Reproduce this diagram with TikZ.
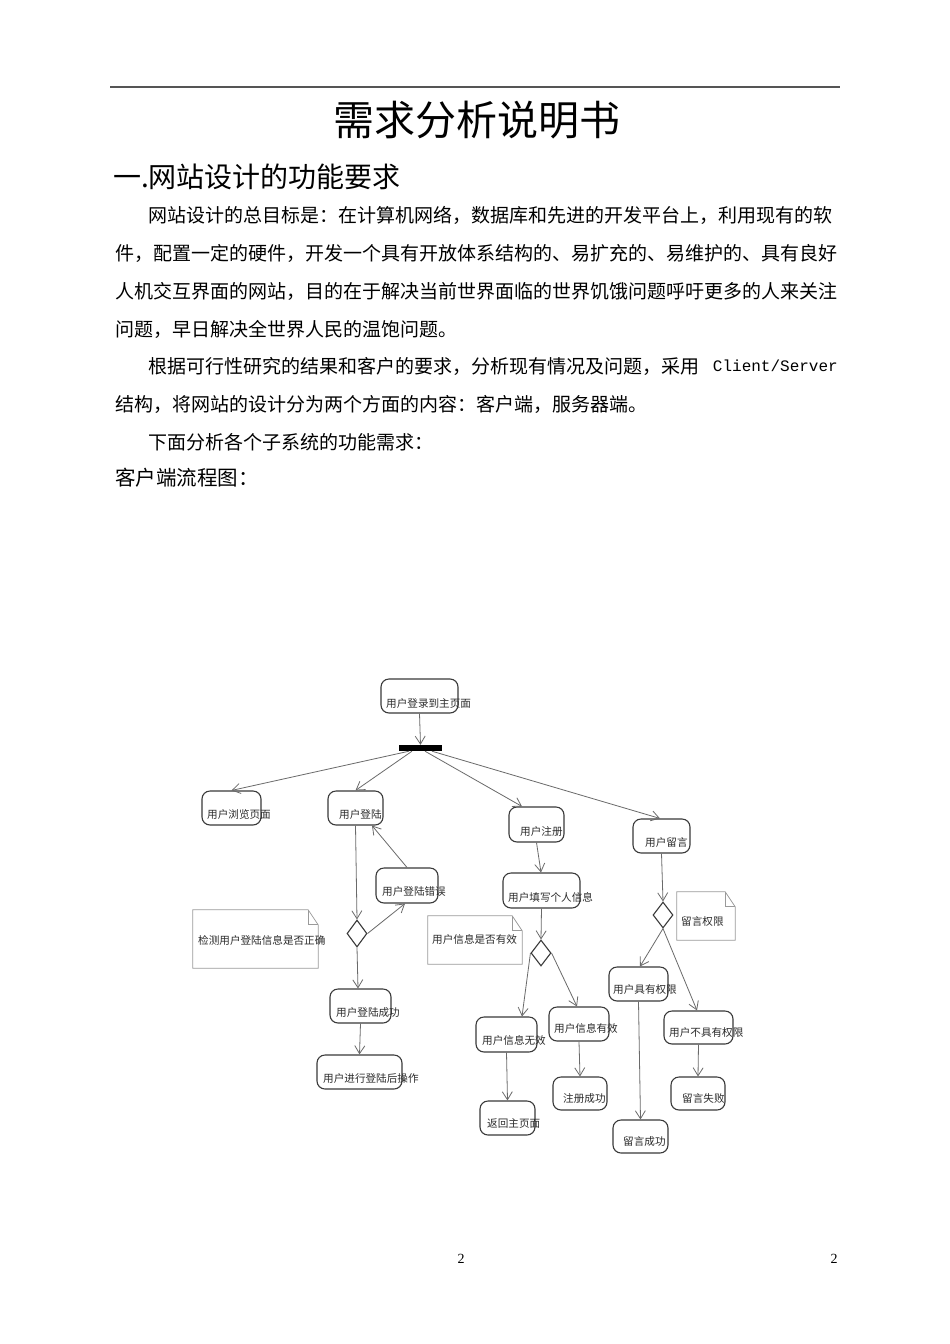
\documentclass[tikz,border=0pt]{standalone}
\usepackage{fontspec}
\setmainfont{Noto Sans CJK SC}
\newfontfamily\monofnt{Liberation Mono}
\newfontfamily\seriffnt{Liberation Serif}
\usetikzlibrary{arrows.meta,shapes.geometric}
\newcommand\setfs[1]{\fontsize{#1}{#1}\selectfont}
\definecolor{boxc}{HTML}{3A3A3A}
\definecolor{linec}{HTML}{6A6A6A}
\definecolor{notec}{HTML}{9A9A9A}
\definecolor{txtc}{HTML}{2A2A2A}
\definecolor{rulec}{HTML}{555555}
\begin{document}
\begin{tikzpicture}[x=1pt,y=-1pt,
  box/.style={draw=boxc, line width=1.1pt, rounded corners=8pt, inner sep=0pt},
  lbl/.style={anchor=west, inner sep=0pt, font=\setfs{10.6}, text=txtc},
  conn/.style={draw=linec, line width=0.8pt, -{Straight Barb[length=8pt,width=10pt]}},
  notebox/.style={inner sep=0pt},
  notedraw/.style={draw=notec, line width=0.7pt},
  para/.style={anchor=west, inner sep=0pt, font=\setfs{19}},
  dia/.style={diamond, draw=boxc, line width=1.1pt, inner sep=0pt, fill=white},
  pnum/.style={inner sep=0pt, font=\seriffnt\setfs{14}}]
\useasboundingbox[fill=white] (0,0) rectangle (950,1344);

% top rule
\coordinate (r1) at (110,87);
\coordinate (r2) at (840,87);
\draw[rulec, line width=2pt] (r1) -- (r2);

% title and text
\node[inner sep=0pt, font=\setfs{41}] (title) at (476.5,120) {需求分析说明书};
\node[anchor=west, inner sep=0pt, font=\setfs{28}] (head) at (113,177) {一.网站设计的功能要求};
\node[para] (p1) at (148,215) {网站设计的总目标是：在计算机网络，数据库和先进的开发平台上，利用现有的软};
\node[para] (p2) at (115,253) {件，配置一定的硬件，开发一个具有开放体系结构的、易扩充的、易维护的、具有良好};
\node[para] (p3) at (115,291) {人机交互界面的网站，目的在于解决当前世界面临的世界饥饿问题呼吁更多的人来关注};
\node[para] (p4) at (115,329) {问题，早日解决全世界人民的温饱问题。};
\node[para] (p5) at (148,366) {根据可行性研究的结果和客户的要求，分析现有情况及问题，采用};
\node[anchor=east, inner sep=0pt, font=\monofnt\setfs{16}] (p5b) at (838,366) {Client/Server};
\node[para] (p6) at (115,404) {结构，将网站的设计分为两个方面的内容：客户端，服务器端。};
\node[para] (p7) at (148,442) {下面分析各个子系统的功能需求：};
\node[anchor=west, inner sep=0pt, font=\setfs{20.5}] (p8) at (115,478) {客户端流程图：};

% boxes
\node[box, minimum width=77pt, minimum height=34pt] (b0) at (419.5,696) {};
\node[fill=black, inner sep=0pt, minimum width=43pt, minimum height=6pt] (bar) at (420.5,748) {};
\node[box, minimum width=59pt, minimum height=34pt] (b1) at (231.5,808) {};
\node[box, minimum width=55pt, minimum height=34pt] (b2) at (355.5,808) {};
\node[box, minimum width=55pt, minimum height=35pt] (b3) at (536.5,824.5) {};
\node[box, minimum width=57pt, minimum height=34pt] (b4) at (661.5,836) {};
\node[box, minimum width=62pt, minimum height=35pt] (b5) at (407,885.5) {};
\node[box, minimum width=61pt, minimum height=34pt] (b6) at (360.5,1006) {};
\node[box, minimum width=85pt, minimum height=34pt] (b7) at (359.5,1072) {};
\node[box, minimum width=77pt, minimum height=35pt] (b8) at (541.5,890.5) {};
\node[box, minimum width=61pt, minimum height=35pt] (b9) at (506.5,1034.5) {};
\node[box, minimum width=60pt, minimum height=34pt] (b10) at (579,1024) {};
\node[box, minimum width=55pt, minimum height=34pt] (b11) at (507.5,1118) {};
\node[box, minimum width=54pt, minimum height=33pt] (b12) at (580,1093.5) {};
\node[box, minimum width=59pt, minimum height=34pt] (b13) at (638.5,984) {};
\node[box, minimum width=69pt, minimum height=33pt] (b14) at (698.5,1027.5) {};
\node[box, minimum width=54pt, minimum height=33pt] (b15) at (698,1093.5) {};
\node[box, minimum width=55pt, minimum height=33pt] (b16) at (640.5,1136.5) {};

% diamonds
\node[dia, minimum width=20pt, minimum height=27pt] (d1) at (357,933.5) {};
\node[dia, minimum width=20pt, minimum height=26pt] (d2) at (541,953) {};
\node[dia, minimum width=20pt, minimum height=26pt] (d3) at (663,915) {};

% notes
\node[notebox, minimum width=125pt, minimum height=58pt] (n1) at (255.5,939) {};
\node[notebox, minimum width=94pt, minimum height=48pt] (n2) at (475,940) {};
\node[notebox, minimum width=58pt, minimum height=48pt] (n3) at (706,916) {};
\foreach \n in {n1,n2,n3}{
  \draw[notedraw] (\n.south west) -- (\n.north west) -- ([xshift=-10pt]\n.north east)
     -- ([yshift=-15pt]\n.north east) -- (\n.south east) -- cycle;
  \draw[notedraw] ([xshift=-10pt]\n.north east) -- ([xshift=-10pt,yshift=-15pt]\n.north east)
     -- ([yshift=-15pt]\n.north east);
}

% labels
\node[lbl] (t0) at (386,703) {用户登录到主页面};
\node[lbl] (t1) at (207,814) {用户浏览页面};
\node[lbl] (t2) at (339,814) {用户登陆};
\node[lbl] (t3) at (520,831) {用户注册};
\node[lbl] (t4) at (645,842) {用户留言};
\node[lbl] (t5) at (382,891) {用户登陆错误};
\node[lbl] (tn1) at (198,940) {检测用户登陆信息是否正确};
\node[lbl] (t6) at (336,1012) {用户登陆成功};
\node[lbl] (t7) at (323,1078) {用户进行登陆后操作};
\node[lbl] (t8) at (508,897) {用户填写个人信息};
\node[lbl] (tn2) at (432,939) {用户信息是否有效};
\node[lbl] (tn3) at (681,921) {留言权限};
\node[lbl] (t13) at (613,989) {用户具有权限};
\node[lbl] (t9) at (482,1040) {用户信息无效};
\node[lbl] (t10) at (554,1028) {用户信息有效};
\node[lbl] (t14) at (669,1032) {用户不具有权限};
\node[lbl] (t11) at (487,1123) {返回主页面};
\node[lbl] (t12) at (563,1098) {注册成功};
\node[lbl] (t15) at (682,1098) {留言失败};
\node[lbl] (t16) at (623,1141) {留言成功};

% connectors
\draw[conn] (b0.south) -- (bar.north);
\draw[conn] ([xshift=-11.5pt]bar.south) -- (b1.north);
\draw[conn] ([xshift=-8.5pt]bar.south) -- (b2.north);
\draw[conn] ([xshift=4.5pt]bar.south) -- ([xshift=-14.5pt]b3.north);
\draw[conn] ([xshift=11.5pt]bar.south) -- ([xshift=-1.5pt]b4.north);
\draw[conn] (b2.south) -- (d1.north);
\draw[conn] (d1.east) -- ([xshift=-2pt]b5.south);
\draw[conn] (b5.north) -- ([xshift=16.5pt]b2.south);
\draw[conn] (d1.south) -- ([xshift=-2.5pt]b6.north);
\draw[conn] (b6.south) -- (b7.north);
\draw[conn] (b3.south) -- ([xshift=-0.5pt]b8.north);
\draw[conn] (b8.south) -- (d2.north);
\draw[conn] (d2.west) -- ([xshift=15.5pt]b9.north);
\draw[conn] (d2.east) -- ([xshift=-2pt]b10.north);
\draw[conn] (b9.south) -- (b11.north);
\draw[conn] (b10.south) -- (b12.north);
\draw[conn] (b4.south) -- (d3.north);
\draw[conn] (d3.south) -- ([xshift=1.5pt]b13.north);
\draw[conn] (d3.south) -- ([xshift=-1.5pt]b14.north);
\draw[conn] (b13.south) -- (b16.north);
\draw[conn] (b14.south) -- (b15.north);

% page numbers
\node[pnum] (pg1) at (461,1259) {2};
\node[pnum] (pg2) at (834,1259) {2};
\end{tikzpicture}
\end{document}
